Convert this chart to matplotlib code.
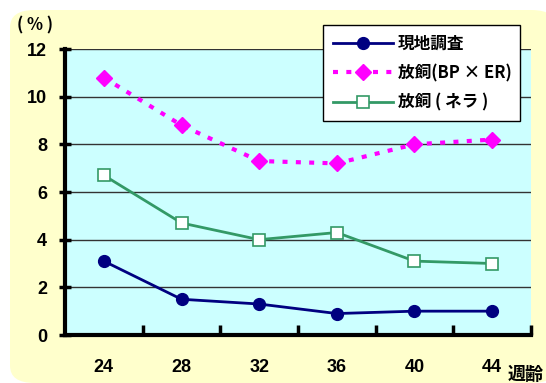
import matplotlib.pyplot as plt
from matplotlib.patches import FancyBboxPatch
from matplotlib.ticker import FixedLocator

plt.rcParams['font.family'] = ['Noto Sans CJK JP', 'DejaVu Sans']

weeks = ['24', '28', '32', '36', '40', '44']
genchi = [3.1, 1.5, 1.3, 0.9, 1.0, 1.0]
houshi_bp_er = [10.8, 8.8, 7.3, 7.2, 8.0, 8.2]
houshi_nera = [6.7, 4.7, 4.0, 4.3, 3.1, 3.0]
y_ticks = [0, 2, 4, 6, 8, 10, 12]

fig = plt.figure(figsize=(5.46, 3.83), dpi=100)
fig.patch.set_facecolor('white')

# 角丸の背景
bg = FancyBboxPatch((10 / 546, 0.0), 1.0, 1 - 10 / 383,
                    boxstyle='round,pad=0,rounding_size=0.045',
                    transform=fig.transFigure, facecolor='#FFFFCC',
                    edgecolor='none', zorder=-10)
fig.patches.append(bg)

ax = fig.add_axes([65 / 546, 1 - 335 / 383, 466 / 546, 286 / 383])
ax.set_facecolor('#CCFFFF')

x = range(len(weeks))
ax.plot(x, genchi, color='#000080', lw=2, marker='o', ms=8.5,
        label='現地調査', zorder=4)
ax.plot(x, houshi_bp_er, color='#FF00FF', lw=3, ls=(0, (1.2, 2.0)),
        marker='D', ms=8, label='放飼(BP × ER)', zorder=4)
ax.plot(x, houshi_nera, color='#339966', lw=2, marker='s', ms=8.5,
        mfc='white', mec='#339966', mew=1.2, label='放飼 ( ネラ )', zorder=4)

ax.set_xlim(-0.5, len(weeks) - 0.5)
ax.set_ylim(0, 12)
ax.set_yticks(y_ticks)
ax.set_xticks(list(x))
ax.set_xticklabels(weeks)
ax.xaxis.set_minor_locator(FixedLocator([i + 0.5 for i in range(len(weeks))]))
ax.tick_params(axis='x', which='major', length=0, pad=17)
ax.tick_params(axis='x', which='minor', direction='in', length=7, width=2.5)
ax.tick_params(axis='y', direction='inout', length=8, width=2.5, pad=9)
for lab in ax.get_xticklabels() + ax.get_yticklabels():
    lab.set_fontsize(13)
    lab.set_fontweight('bold')
    lab.set_family(['Liberation Sans', 'DejaVu Sans'])

ax.grid(axis='y', color='#333333', lw=1)
ax.set_axisbelow(True)
for s in ['top', 'right']:
    ax.spines[s].set_visible(False)
for s in ['left', 'bottom']:
    ax.spines[s].set_linewidth(3)

fig.text(35 / 546, 1 - 25 / 383, '( % )', fontsize=12, fontweight='bold',
         ha='center', va='center')
fig.text(526 / 546, 1 - 374 / 383, '週齢', fontsize=13, fontweight='bold',
         ha='center', va='center')

leg = ax.legend(loc='upper left', bbox_to_anchor=(315 / 546, 1 - 17 / 383),
                bbox_transform=fig.transFigure, frameon=True, fancybox=False,
                edgecolor='black', framealpha=1, borderpad=0.55,
                labelspacing=0.7, handlelength=3.6, handletextpad=0.3,
                prop={'weight': 'bold', 'size': 12})
leg.get_frame().set_linewidth(1)
leg.set_zorder(10)

fig.savefig('out.png', dpi=100)
